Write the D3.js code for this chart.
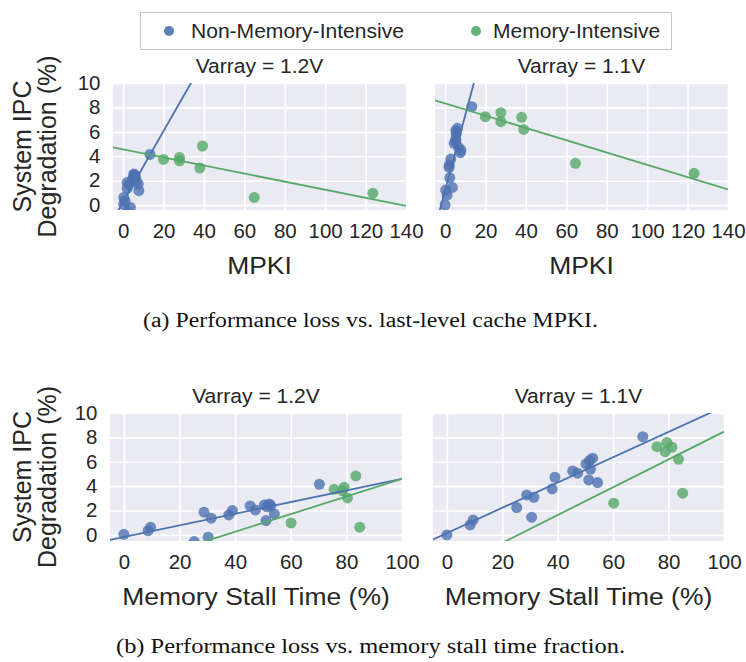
<!DOCTYPE html>
<html><head><meta charset="utf-8">
<script src="https://cdn.jsdelivr.net/npm/d3@7"></script>
<style>
html,body{margin:0;padding:0;background:#fff;}
svg{display:block;}
</style></head>
<body>
<svg id="c" width="746" height="662"></svg>
<script>
// ---------- data ----------
const groups = ["Non-Memory-Intensive", "Memory-Intensive"];
const colors = ["#4C72B0", "#55A868"];
const titles = ["Varray = 1.2V", "Varray = 1.1V"];
const xTicksMpki = [0, 20, 40, 60, 80, 100, 120, 140];
const xTicksStall = [0, 20, 40, 60, 80, 100];
const yTicks = [0, 2, 4, 6, 8, 10];

// Non-memory-intensive benchmarks
const blueMpki12  = [0.3, 1.0, 0.3, 2.3, 3.6, 2.0, 2.0, 2.8, 6.6, 5.3, 4.5, 5.5, 5.3, 6.1, 5.3, 7.8, 7.5, 13.3];
const blueDeg12   = [0.05, 0.35, 0.63, -0.55, -0.19, 1.86, 1.37, 1.64, 2.0, 2.38, 2.05, 2.46, 2.54, 2.40, 2.30, 1.18, 1.72, 4.15];
const blueStall12 = [0, 8.7, 9.6, 25.3, 30.3, 28.8, 31.4, 37.7, 39.0, 45.4, 47.3, 50.5, 52.3, 52.8, 51.5, 51.1, 54.1, 70.3];
const blueMpki11  = [0.0, 1.0, 0.3, 2.3, 3.6, 2.0, 2.0, 2.8, 6.6, 5.3, 4.5, 5.5, 5.3, 6.1, 5.3, 7.8, 7.5, 13.2];
const blueDeg11   = [0.0, 0.82, 1.23, 2.24, 1.45, 3.28, 3.09, 3.77, 4.73, 5.25, 5.06, 5.82, 6.10, 6.29, 5.38, 4.51, 4.29, 8.06];
const blueStall11 = [0, 8.4, 9.5, 25.2, 30.6, 28.8, 31.4, 38.0, 39.0, 45.4, 47.2, 50.2, 51.5, 52.6, 51.8, 51.2, 54.4, 70.7];

// Memory-intensive benchmarks
const greenMpki12  = [20.0, 27.9, 27.9, 39.3, 38.0, 64.9, 123.6];
const greenDeg12   = [3.74, 3.90, 3.63, 4.84, 3.03, 0.63, 0.98];
const greenStall12 = [75.6, 79.2, 78.5, 83.4, 80.4, 84.8, 60.1];
const greenMpki11  = [19.9, 27.6, 27.6, 37.9, 38.9, 64.5, 123.2];
const greenDeg11   = [7.24, 7.57, 6.83, 7.19, 6.20, 3.42, 2.60];
const greenStall11 = [75.8, 79.4, 78.8, 81.2, 83.6, 85.1, 60.2];

// Regression fits: [slope, intercept]
const fitMpki12  = [[0.29, 0.26], [-0.0331, 4.57]];
const fitMpki11  = [[0.618, 1.2], [-0.0503, 8.33]];
const fitStall12 = [[0.0477, -0.17], [0.0724, -2.64]];
const fitStall11 = [[0.1038, 0.148], [0.114, -2.93]];

const captionA = "(a) Performance loss vs. last-level cache MPKI.";
const captionB = "(b) Performance loss vs. memory stall time fraction.";
const yLabel = ["System IPC", "Degradation (%)"];

// ---------- drawing ----------
const svg = d3.select("#c");
const SANS = "'Liberation Sans', Arial, sans-serif";
const TXT = "#262626";
const SX = 1.08;   // horizontal stretch of the original's lettering
const SXT = 1.05;  // stretch for tick labels

function htext(parent, x, y, str, size, anchor) {
  return parent.append("text")
    .attr("transform", `translate(${x},${y}) scale(${SX},1)`)
    .attr("text-anchor", anchor || "start")
    .attr("font-family", SANS).attr("font-size", size).attr("fill", TXT).text(str);
}

const panels = [
  {x0:113, x1:406, y0:83, y1:210, xd:[-5,140], yd:[-0.4,10], xt:xTicksMpki, title:titles[0], xlab:"MPKI", yl:true,
   series:[[blueMpki12, blueDeg12],[greenMpki12, greenDeg12]], fit:fitMpki12},
  {x0:435, x1:728, y0:83, y1:210, xd:[-5,140], yd:[-0.4,10], xt:xTicksMpki, title:titles[1], xlab:"MPKI", yl:false,
   series:[[blueMpki11, blueDeg11],[greenMpki11, greenDeg11]], fit:fitMpki11},
  {x0:110, x1:402, y0:413, y1:541, xd:[-5,100], yd:[-0.5,10], xt:xTicksStall, title:titles[0], xlab:"Memory Stall Time (%)", yl:true,
   series:[[blueStall12, blueDeg12],[greenStall12, greenDeg12]], fit:fitStall12},
  {x0:433, x1:724, y0:413, y1:541, xd:[-5,100], yd:[-0.5,10], xt:xTicksStall, title:titles[1], xlab:"Memory Stall Time (%)", yl:false,
   series:[[blueStall11, blueDeg11],[greenStall11, greenDeg11]], fit:fitStall11}
];

const defs = svg.append("defs");

panels.forEach((p, pi) => {
  const x = d3.scaleLinear().domain(p.xd).range([p.x0, p.x1]);
  const y = d3.scaleLinear().domain(p.yd).range([p.y1, p.y0]);
  const g = svg.append("g");
  g.append("rect").attr("x", p.x0).attr("y", p.y0).attr("width", p.x1 - p.x0).attr("height", p.y1 - p.y0)
    .attr("fill", "#EAEAF2");
  // grid
  const xa = d3.axisBottom(x).tickValues(p.xt).tickSize(-(p.y1 - p.y0)).tickFormat("");
  g.append("g").attr("transform", `translate(0,${p.y1})`).call(xa)
    .call(s => { s.select(".domain").remove(); s.selectAll("line").attr("stroke", "#fff").attr("stroke-width", 1.6); });
  const ya = d3.axisLeft(y).tickValues(yTicks).tickSize(-(p.x1 - p.x0)).tickFormat("");
  g.append("g").attr("transform", `translate(${p.x0},0)`).call(ya)
    .call(s => { s.select(".domain").remove(); s.selectAll("line").attr("stroke", "#fff").attr("stroke-width", 1.6); });

  // tick labels via axes
  const xl = d3.axisBottom(x).tickValues(p.xt).tickSize(0).tickPadding(14).tickFormat(d3.format("d"));
  g.append("g").attr("transform", `translate(0,${p.y1})`).call(xl)
    .call(s => { s.select(".domain").remove();
      s.selectAll("text").attr("font-family", SANS).attr("font-size", 19.5).attr("fill", TXT).attr("dy", "0.71em")
       .attr("transform", `scale(${SXT},1)`); });
  if (p.yl) {
    const yl = d3.axisLeft(y).tickValues(yTicks).tickSize(0).tickPadding(12).tickFormat(d3.format("d"));
    g.append("g").attr("transform", `translate(${p.x0},0)`).call(yl)
      .call(s => { s.select(".domain").remove();
        s.selectAll("text").attr("font-family", SANS).attr("font-size", 19.5).attr("fill", TXT)
         .attr("transform", `scale(${SXT},1)`); });
  }

  const cid = "clip" + pi;
  defs.append("clipPath").attr("id", cid).append("rect")
    .attr("x", p.x0).attr("y", p.y0).attr("width", p.x1 - p.x0).attr("height", p.y1 - p.y0);
  const plot = g.append("g").attr("clip-path", `url(#${cid})`);

  p.series.forEach((s, si) => {
    const pts = s[0].map((v, i) => [v, s[1][i]]);
    plot.append("g").selectAll("circle").data(pts).join("circle")
      .attr("cx", d => x(d[0])).attr("cy", d => y(d[1])).attr("r", 5.5)
      .attr("fill", colors[si]).attr("fill-opacity", 0.8);
  });
  p.series.forEach((s, si) => {
    const [m, b] = p.fit[si];
    const line = d3.line().x(d => x(d)).y(d => y(m * d + b));
    plot.append("path").datum(p.xd).attr("d", line)
      .attr("stroke", colors[si]).attr("stroke-width", 1.8).attr("fill", "none");
  });

  // title
  htext(g, (p.x0 + p.x1) / 2, p.y0 - 10, p.title, 19.5, "middle");
  // x label
  htext(g, (p.x0 + p.x1) / 2, p.y1 + 64, p.xlab, 24.5, "middle");
  // y label
  if (p.yl) {
    const cy = (p.y0 + p.y1) / 2;
    [31, 56].forEach((bx, li) => {
      g.append("text").attr("transform", `translate(${bx},${cy}) rotate(-90)`).attr("text-anchor", "middle")
        .attr("font-family", SANS).attr("font-size", 25).attr("fill", TXT).text(yLabel[li]);
    });
  }
});

// legend
const lg = svg.append("g");
lg.append("rect").attr("x", 140.5).attr("y", 12.5).attr("width", 531).attr("height", 37)
  .attr("fill", "#fff").attr("stroke", "#c8c8c8").attr("stroke-width", 1);
const legX = [[169, 191], [476, 493]];
groups.forEach((name, i) => {
  lg.append("circle").attr("cx", legX[i][0]).attr("cy", 31).attr("r", 5).attr("fill", colors[i]).attr("fill-opacity", 0.9);
  htext(lg, legX[i][1], 38, name, 19.5, "start");
});

// captions
const SERIF = "'Liberation Serif', 'DejaVu Serif', serif";
svg.append("text").attr("x", 143).attr("y", 327).attr("font-family", SERIF).attr("font-size", 20)
  .attr("textLength", 455).attr("lengthAdjust", "spacingAndGlyphs").attr("fill", "#111").text(captionA);
svg.append("text").attr("x", 116).attr("y", 653).attr("font-family", SERIF).attr("font-size", 20)
  .attr("textLength", 509).attr("lengthAdjust", "spacingAndGlyphs").attr("fill", "#111").text(captionB);
</script>
</body></html>
